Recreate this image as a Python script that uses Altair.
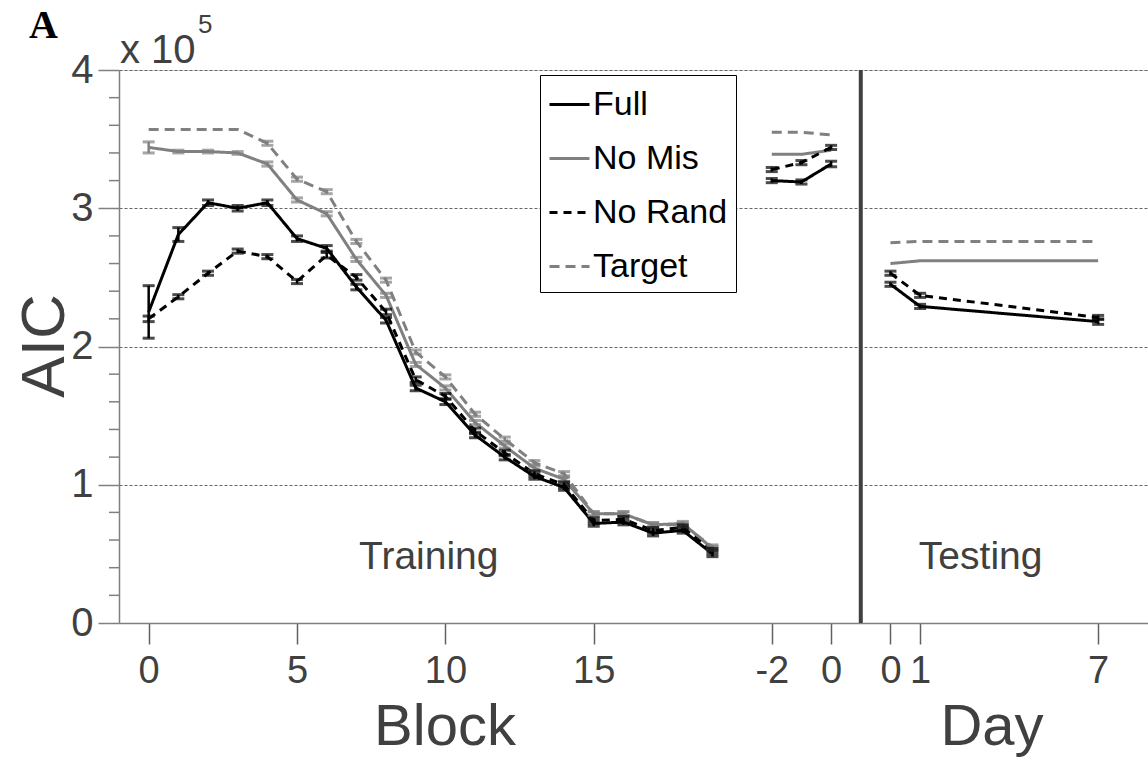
import altair as alt
import pandas as pd

# ---------------- data ----------------
series_names = ["Full", "No Mis", "No Rand", "Target"]
series_colors = ["#000000", "#808080", "#000000", "#808080"]
series_dash = [[1, 0], [1, 0], [8, 6], [10, 6]]

train_blocks = list(range(20))
full_train = [2.25, 2.81, 3.04, 3.00, 3.04, 2.78, 2.71, 2.43, 2.19, 1.70,
              1.60, 1.36, 1.20, 1.06, 0.98, 0.72, 0.73, 0.65, 0.67, 0.50]
nomis_train = [3.44, 3.41, 3.41, 3.40, 3.32, 3.06, 2.96, 2.63, 2.37, 1.87,
               1.70, 1.45, 1.28, 1.12, 1.04, 0.79, 0.79, 0.71, 0.72, 0.54]
norand_train = [2.20, 2.36, 2.53, 2.69, 2.65, 2.47, 2.66, 2.50, 2.25, 1.76,
                1.64, 1.39, 1.23, 1.08, 1.00, 0.74, 0.75, 0.67, 0.69, 0.52]
target_train = [3.57, 3.57, 3.57, 3.57, 3.47, 3.21, 3.12, 2.76, 2.48, 1.96,
                1.78, 1.51, 1.33, 1.16, 1.08, 0.79, 0.79, 0.71, 0.71, 0.55]
full_train_err = [0.19, 0.05, 0.02, 0.02, 0.02, 0.02, 0.02, 0.02, 0.02, 0.02,
                  0.02, 0.02, 0.02, 0.02, 0.02, 0.02, 0.02, 0.02, 0.02, 0.02]
nomis_train_err = [0.04, 0.01, 0.01, 0.01, 0.015, 0.015, 0.015, 0.015, 0.015, 0.015,
                   0.015, 0.015, 0.015, 0.015, 0.015, 0.015, 0.015, 0.015, 0.015, 0.015]
norand_train_err = [0.02, 0.015, 0.015, 0.015, 0.015, 0.015, 0.02, 0.02, 0.02, 0.02,
                    0.02, 0.02, 0.02, 0.02, 0.02, 0.02, 0.02, 0.02, 0.02, 0.02]
target_train_err = [0.0, 0.0, 0.0, 0.0, 0.015, 0.015, 0.015, 0.015, 0.015, 0.015,
                    0.015, 0.015, 0.015, 0.015, 0.015, 0.015, 0.015, 0.015, 0.015, 0.015]

pre_days = [-2, -1, 0]
full_pre = [3.20, 3.19, 3.32]
nomis_pre = [3.39, 3.39, 3.42]
norand_pre = [3.28, 3.33, 3.44]
target_pre = [3.55, 3.55, 3.53]
full_pre_err = [0.015, 0.015, 0.02]
nomis_pre_err = [0.0, 0.0, 0.0]
norand_pre_err = [0.015, 0.015, 0.015]
target_pre_err = [0.0, 0.0, 0.0]

test_days = [0, 1, 7]
full_test = [2.45, 2.29, 2.18]
nomis_test = [2.60, 2.62, 2.62]
norand_test = [2.53, 2.37, 2.21]
target_test = [2.75, 2.76, 2.76]
full_test_err = [0.015, 0.015, 0.02]
nomis_test_err = [0.0, 0.0, 0.0]
norand_test_err = [0.015, 0.015, 0.015]
target_test_err = [0.0, 0.0, 0.0]

x_tick_values = [0, 5, 10, 15, 21, 23, 25, 26, 32]
y_tick_values = [0, 1, 2, 3, 4]
y_minor_ticks = [0.2, 0.4, 0.6, 0.8, 1.2, 1.4, 1.6, 1.8, 2.2, 2.4, 2.6, 2.8,
                 3.2, 3.4, 3.6, 3.8]
separator_pos = [24]
PRE_OFFSET = 23   # pre-test day d sits at position 23 + d
TEST_OFFSET = 25  # test day d sits at position 25 + d

# ---------------- build the table ----------------
groups = {
    "Target": [(target_train, target_train_err, train_blocks, 0, "train"),
               (target_pre, target_pre_err, pre_days, PRE_OFFSET, "pre"),
               (target_test, target_test_err, test_days, TEST_OFFSET, "test")],
    "No Mis": [(nomis_train, nomis_train_err, train_blocks, 0, "train"),
               (nomis_pre, nomis_pre_err, pre_days, PRE_OFFSET, "pre"),
               (nomis_test, nomis_test_err, test_days, TEST_OFFSET, "test")],
    "No Rand": [(norand_train, norand_train_err, train_blocks, 0, "train"),
                (norand_pre, norand_pre_err, pre_days, PRE_OFFSET, "pre"),
                (norand_test, norand_test_err, test_days, TEST_OFFSET, "test")],
    "Full": [(full_train, full_train_err, train_blocks, 0, "train"),
             (full_pre, full_pre_err, pre_days, PRE_OFFSET, "pre"),
             (full_test, full_test_err, test_days, TEST_OFFSET, "test")],
}
rows = []
for name, segs in groups.items():
    for vals, errs, xs, off, seg in segs:
        for v, e, xv in zip(vals, errs, xs):
            rows.append({"series": name, "grp": name + "_" + seg, "pos": xv + off,
                         "aic": v, "lo": v - e, "hi": v + e, "has_err": e > 0})
df = pd.DataFrame(rows)
df_err = df[df["has_err"]]

FONT = "Liberation Sans, Arial, Helvetica, sans-serif"
NARROW = "Liberation Sans Narrow, Arial Narrow, Liberation Sans, Arial, sans-serif"
TXT = "#404040"

xscale = alt.Scale(domain=[-1, 33.68], nice=False, zero=False)
yscale = alt.Scale(domain=[0, 4], nice=False)
cscale = alt.Scale(domain=series_names, range=series_colors)
dscale = alt.Scale(domain=series_names, range=series_dash)

x_axis = alt.Axis(values=x_tick_values, title=None, grid=False,
                  labelExpr="datum.value <= 19 ? '' + datum.value : (datum.value <= 23 ? '' + (datum.value - 23) : '' + (datum.value - 25))",
                  labelFontSize=38, labelFont=NARROW, labelColor=TXT, labelPadding=8,
                  tickSize=21, tickColor="#606060", tickWidth=1.5,
                  domainColor="#808080", domainWidth=1.5, labelFlush=False,
                  labelOverlap=False)
y_axis = alt.Axis(values=y_tick_values, title=None, format="d", grid=True,
                  gridDash=[3, 2], gridColor="#666666", gridWidth=1,
                  labelFontSize=40, labelFont=NARROW, labelColor=TXT, labelPadding=5,
                  tickSize=21, tickColor="#808080", tickWidth=1.5,
                  domainColor="#808080", domainWidth=1.5, labelFlush=False)

legend = alt.Legend(orient="none", legendX=421, legendY=5, title=None,
                    labelFontSize=34, labelFont=FONT, labelColor="#000000",
                    symbolType="stroke", symbolSize=1600, symbolStrokeWidth=3,
                    rowPadding=15, padding=8, labelOffset=2,
                    strokeColor="#000000", fillColor="#ffffff")


def X(field):
    return alt.X(field, scale=xscale, axis=x_axis)


def Y(field):
    return alt.Y(field, scale=yscale, axis=y_axis)


base = alt.Chart(df)

lines = base.mark_line(strokeWidth=3).encode(
    x=X("pos:Q"),
    y=Y("aic:Q"),
    color=alt.Color("series:N", scale=cscale, legend=legend, sort=series_names),
    strokeDash=alt.StrokeDash("series:N", scale=dscale, legend=legend, sort=series_names),
    detail="grp:N",
)

err_base = alt.Chart(df_err)
err_rules = err_base.mark_rule(strokeWidth=2.5).encode(
    x=X("pos:Q"),
    y=Y("lo:Q"),
    y2="hi:Q",
    color=alt.Color("series:N", scale=cscale, legend=None),
)
caps_lo = err_base.mark_tick(orient="horizontal", size=12, thickness=3).encode(
    x=X("pos:Q"),
    y=Y("lo:Q"),
    color=alt.Color("series:N", scale=cscale, legend=None),
)
caps_hi = err_base.mark_tick(orient="horizontal", size=12, thickness=3).encode(
    x=X("pos:Q"),
    y=Y("hi:Q"),
    color=alt.Color("series:N", scale=cscale, legend=None),
)

minor = alt.Chart(pd.DataFrame({"v": y_minor_ticks})).mark_rule(
    color="#808080", strokeWidth=1.5).encode(
    x=alt.value(-10), x2=alt.value(0),
    y=Y("v:Q"),
)

sep = alt.Chart(pd.DataFrame({"p": separator_pos})).mark_rule(
    color="#404040", strokeWidth=4).encode(
    x=X("p:Q"),
)

section_labels = pd.DataFrame({"t": ["Training", "Testing"],
                               "px": [9.44, 28.04], "py": [0.48, 0.48]})
sections = alt.Chart(section_labels).mark_text(
    fontSize=39, font=FONT, color=TXT, align="center", baseline="middle").encode(
    x=X("px:Q"),
    y=Y("py:Q"),
    text="t:N",
)


def label(txt, x, y, size, align="center", baseline="alphabetic", angle=0,
          font=FONT, weight="normal", color=TXT):
    return alt.Chart(pd.DataFrame({"t": [txt]})).mark_text(
        fontSize=size, font=font, fontWeight=weight, color=color, align=align,
        baseline=baseline, angle=angle).encode(
        x=alt.value(x), y=alt.value(y), text="t:N")


block_title = label("Block", 326, 675, 58)
day_title = label("Day", 873, 675, 58)
aic_title = label("AIC", -74, 276, 62, baseline="middle", angle=270)
exp_base = label("x 10", 1, -7, 40, align="left")
exp_sup = label("5", 79, -37, 26, align="left")
panel = label("A", -90, -32, 40, align="left",
              font="Liberation Serif, Times New Roman, serif", weight="bold",
              color="#000000")

chart = alt.layer(
    lines, sep, minor, err_rules, caps_lo, caps_hi, sections,
    block_title, day_title, aic_title, exp_base, exp_sup, panel,
).properties(
    width=1029, height=553, autosize="none",
    padding={"left": 119, "top": 70, "right": 0, "bottom": 135},
).configure_view(stroke=None).configure(font=FONT, background="white")

chart.save("out.html", embed_options={"renderer": "svg", "actions": False})
